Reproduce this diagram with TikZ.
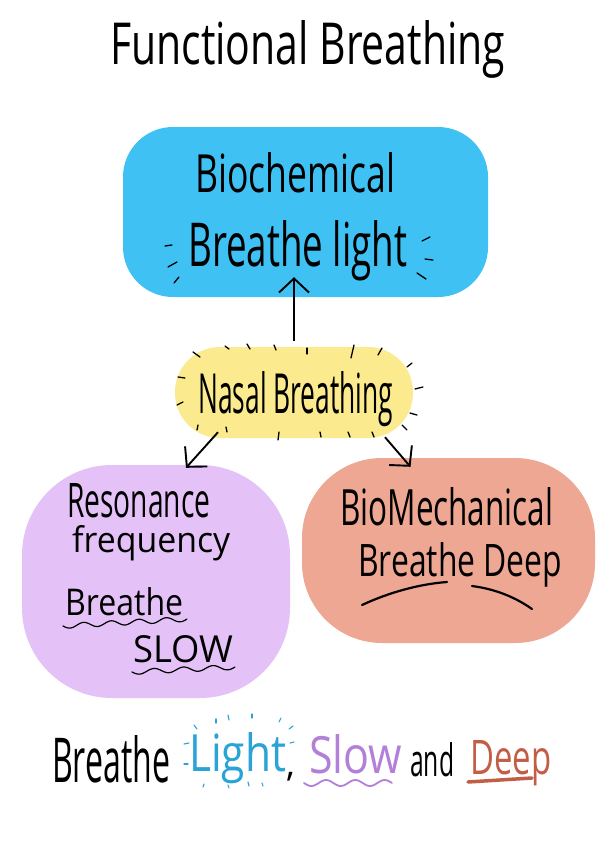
\documentclass[tikz,border=0pt]{standalone}
\usepackage{fontspec}
\setmainfont{Open Sans}
\usepackage{graphicx}
\usetikzlibrary{arrows.meta}
\definecolor{cblu}{HTML}{3FC1F3}
\definecolor{cyel}{HTML}{FBEB8E}
\definecolor{cpur}{HTML}{E4C2F8}
\definecolor{cora}{HTML}{EEA792}
\definecolor{tblu}{HTML}{2AA3D6}
\definecolor{tpur}{HTML}{B27FD9}
\definecolor{tora}{HTML}{C35E46}
\newcommand{\HW}[3]{\resizebox{#1pt}{#2pt}{#3}}
\tikzset{
    BL/.style ={rectangle, inner sep=0pt, draw=none},
    TX/.style ={anchor=base west, inner sep=0pt},
    AR/.style ={-{Straight Barb[length=14pt,width=30pt]}, line width=1.9pt},
    TK/.style ={line width=1.3pt, line cap=round},
    UL/.style ={line width=1.2pt, line cap=round},
    UD/.style ={line width=2.2pt, line cap=round}
}
\begin{document}
\begin{tikzpicture}[x=1pt,y=-1pt]
        \fill[white] (0,0) rectangle (600,849);
        \useasboundingbox (0,0) rectangle (600,849);
        \node[BL, fill=cblu, minimum width=365pt, minimum height=170pt, rounded corners=50pt] (bchem) at (305.5,212) {};
        \node[BL, fill=cyel, minimum width=238pt, minimum height=91pt, rounded corners=45pt] (nasal) at (294,392.5) {};
        \node[BL, fill=cpur, minimum width=268pt, minimum height=233pt, rounded corners=90pt] (reso) at (156,581.5) {};
        \node[BL, fill=cora, minimum width=293pt, minimum height=185pt, rounded corners=80pt] (bmech) at (448.5,550.5) {};
        \node[TX] (ttl) at (110,64) {\HW{395}{44}{Functional Breathing}};
        \node[TX] (bc1) at (195,192) {\HW{200}{40}{Biochemical}};
        \node[TX] (bc2) at (188,266) {\HW{219}{46}{Breathe light}};
        \node[TX] (ns)  at (198,413) {\HW{195}{42}{Nasal Breathing}};
        \node[TX] (rs1) at (67,517)  {\HW{143}{34}{Resonance}};
        \node[TX] (rs2) at (72,552)  {\HW{158}{27}{frequency}};
        \node[TX] (rs3) at (65,615)  {\HW{118}{28}{Breathe}};
        \node[TX] (rs4) at (133,662) {\HW{100}{27}{SLOW}};
        \node[TX] (bm1) at (340,525) {\HW{213}{38}{BioMechanical}};
        \node[TX] (bm2) at (358,576) {\HW{204}{34}{Breathe Deep}};
        \node[TX] (ft1) at (52,782)  {\HW{118}{47}{Breathe}};
        \node[TX, text=tblu] (ft2) at (189,771) {\HW{97}{39}{Light}};
        \node[TX, font=\fontsize{36}{36}\selectfont] (ft3) at (286,776) {,};
        \node[TX, text=tpur] (ft4) at (309,773) {\HW{93}{39}{Slow}};
        \node[TX] (ft5) at (410,776) {\HW{44}{34}{and}};
        \node[TX, text=tora] (ft6) at (470,774) {\HW{81}{34}{Deep}};
        \draw[AR, shorten <=6pt, shorten >=-20pt] (nasal.north) -- (nasal.north |- bchem.south);
        \draw[AR] ([xshift=-76pt,yshift=6pt]nasal.south) -- ([xshift=30pt,yshift=-3pt]reso.north);
        \draw[AR] ([xshift=91pt,yshift=1pt]nasal.south) -- ([xshift=-38pt,yshift=-9pt]bmech.north);
        \foreach \x/\y/\u/\v in {193/352/200/357, 225/346/229/349, 247/344/250/349, 274/345/276/350,
                307/348/307/354, 354/345/351/358, 382/348/378/355, 412/363/407/367, 423/387/415/389,
                417/415/410/413, 407/430/402/425, 374/437/372/432, 350/437/348/432, 321/437/320/432,
                278/440/279/432, 227/432/226/427, 197/430/198/425, 178/377/185/378, 177/405/183/402}
            \draw[TK] (\x,\y) -- (\u,\v);
        \foreach \x/\y/\u/\v in {165/246/172/245, 168/267/177/262, 174/283/179/277,
                422/241/430/237, 425/259/433/260, 417/273/426/279}
            \draw[TK] (\x,\y) -- (\u,\v);
        \foreach \x/\y/\u/\v in {184/744/189/743, 184/764/188/764, 194/725/197/729, 216/719/216/723,
                228/715/229/720, 252/714/252/718, 281/718/279/722, 293/726/289/729, 294/742/290/743,
                204/784/203/787, 228/785/229/788, 248/782/249/786, 262/783/263/786}
            \draw[TK, tblu, line width=1.1pt] (\x,\y) -- (\u,\v);
        \draw[UL] plot[domain=0:1, samples=60] ({63+124*\x}, {626-7*\x+2.5*sin(4.5*360*\x)});
        \draw[UL] plot[domain=0:1, samples=60] ({132+103*\x}, {672-5*\x+2.5*sin(3.5*360*\x)});
        \draw[UL, tpur, line width=1.8pt] plot[domain=0:1, samples=60] ({304+88*\x}, {783+3*sin(3*360*\x)});
        \draw[UD] (362,605) .. controls (390,592) and (420,584) .. (447,582);
        \draw[UD] (472,586) .. controls (495,589) and (515,597) .. (532,609);
        \draw[UD, tora, line width=3.5pt] (468,782) -- (532,778);
\end{tikzpicture}
\end{document}
